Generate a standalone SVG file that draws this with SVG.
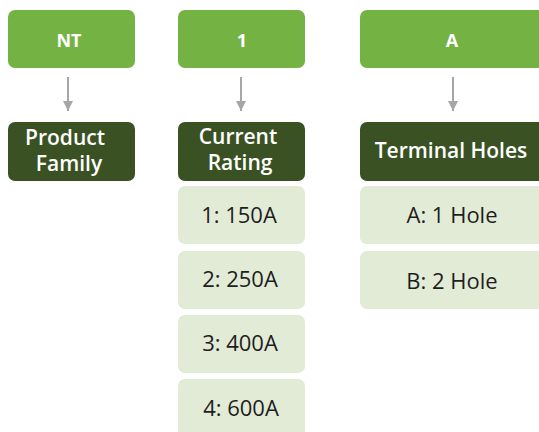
<svg xmlns="http://www.w3.org/2000/svg" width="539" height="432" viewBox="0 0 539 432">
<defs>
<style>
.hdr{fill:#74b244}
.cat{fill:#3a5223}
.opt{fill:#e2ebd6}
.th{font-family:"Open Sans",Lato,sans-serif;font-weight:bold;font-size:18px;fill:#fff;text-anchor:middle}
.tc{font-family:"Open Sans",Lato,sans-serif;font-weight:600;font-size:21px;fill:#fff;text-anchor:middle}
.to{font-family:"Open Sans",Lato,sans-serif;font-size:22px;fill:#1e1e1e;text-anchor:middle}
.ar{stroke:#a6a6a6;stroke-width:2;fill:none}
</style>
<marker id="ah" viewBox="0 0 10 10" refX="10" refY="5" markerWidth="5" markerHeight="5" orient="auto" markerUnits="strokeWidth">
<path d="M0,0 L10,5 L0,10 Z" fill="#a6a6a6"/>
</marker>
</defs>
<rect width="539" height="432" fill="#fff"/>
<g id="connectors">
<line class="ar" x1="68" y1="77" x2="68" y2="111" marker-end="url(#ah)"/>
<line class="ar" x1="241" y1="77" x2="241" y2="111" marker-end="url(#ah)"/>
<line class="ar" x1="453" y1="77" x2="453" y2="111" marker-end="url(#ah)"/>
</g>
<g id="nt"><rect class="hdr" x="8" y="10" width="127" height="58" rx="7"/><text class="th" x="69" y="47">NT</text></g>
<g id="one"><rect class="hdr" x="178" y="10" width="127" height="58" rx="7"/><text class="th" x="242" y="47">1</text></g>
<g id="a"><rect class="hdr" x="360" y="10" width="186" height="58" rx="7"/><text class="th" x="452" y="47">A</text></g>
<g id="product-family"><rect class="cat" x="8" y="122" width="127" height="59" rx="7"/><text class="tc" x="65" y="145">Product</text><text class="tc" x="69" y="171">Family</text></g>
<g id="current-rating"><rect class="cat" x="178" y="122" width="127" height="59" rx="7"/><text class="tc" x="238" y="144">Current</text><text class="tc" x="240" y="170">Rating</text></g>
<g id="terminal-holes"><rect class="cat" x="360" y="122" width="186" height="59" rx="7"/><text class="tc" x="451" y="158">Terminal Holes</text></g>
<g id="r150"><rect class="opt" x="178" y="186" width="127" height="58" rx="7"/><text class="to" x="239" y="223">1: 150A</text></g>
<g id="r250"><rect class="opt" x="178" y="251" width="127" height="58" rx="7"/><text class="to" x="240" y="287">2: 250A</text></g>
<g id="r400"><rect class="opt" x="178" y="315" width="127" height="58" rx="7"/><text class="to" x="240" y="351">3: 400A</text></g>
<g id="r600"><rect class="opt" x="178" y="379" width="127" height="58" rx="7"/><text class="to" x="241" y="416">4: 600A</text></g>
<g id="h1"><rect class="opt" x="360" y="186" width="186" height="58" rx="7"/><text class="to" x="452" y="223">A: 1 Hole</text></g>
<g id="h2"><rect class="opt" x="360" y="251" width="186" height="58" rx="7"/><text class="to" x="452" y="289">B: 2 Hole</text></g>
</svg>
